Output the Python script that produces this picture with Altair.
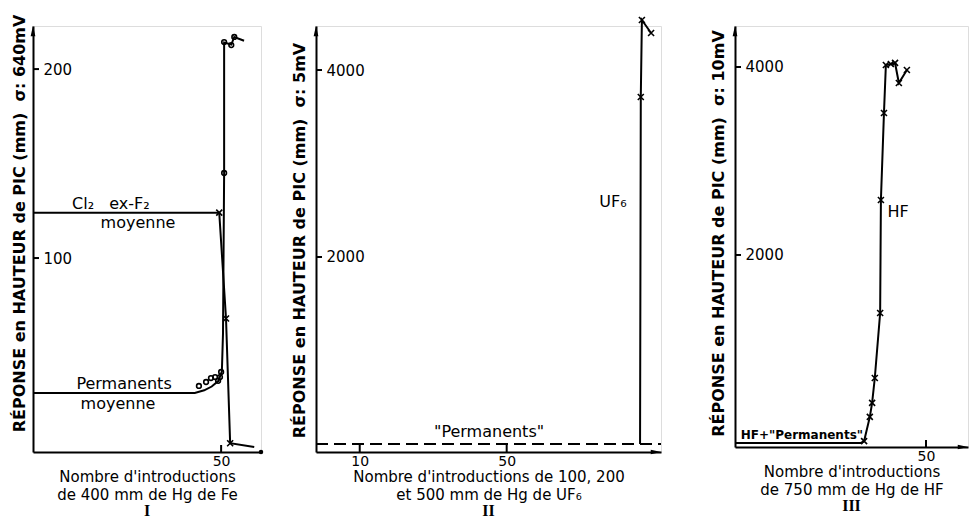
import altair as alt
import pandas as pd

FONT = "DejaVu Sans"

# ---------------- Panel I : Fe ----------------
i_perm_x = [0, 43, 45.5, 47.5, 49.3, 50.2, 50.5, 50.8, 50.8, 52.7, 53.5, 56.1]
i_perm_y = [28.6, 28.6, 30, 32, 35, 40, 60, 145, 214, 213, 217, 215]
i_perm_mx = [44.1, 46.0, 47.3, 48.4, 49.2, 49.7, 50.0, 50.8, 50.8, 52.7, 53.5]
i_perm_my = [32.3, 34.4, 36.5, 37, 35, 37, 39.7, 145, 214.3, 212.7, 217]
i_cl_x = [0, 49.5, 51.3, 52.4, 58.8]
i_cl_y = [124, 124, 68, 2, 0]
i_cl_mx = [49.5, 51.3, 52.4]
i_cl_my = [124, 68, 2]
i_xticks = [50]
i_yticks = [100, 200]
i_labels = ["Cl₂\u00a0\u00a0\u00a0ex-F₂", "moyenne", "Permanents", "moyenne"]
i_label_x = [20.7, 27.9, 24.2, 22.6]
i_label_y = [128.5, 118.5, 33.3, 22.8]

# ---------------- Panel II : UF6 ----------------
ii_uf_x = [86.3, 86.5, 86.8, 89.3]
ii_uf_y = [0, 3711, 4535, 4396]
ii_uf_mx = [86.5, 86.8, 89.3]
ii_uf_my = [3711, 4535, 4396]
ii_perm_x = [-1.9, 92]
ii_perm_y = [0, 0]
ii_xticks = [10, 50]
ii_yticks = [2000, 4000]
ii_labels = ["UF₆", "\"Permanents\""]
ii_label_x = [78.9, 45.2]
ii_label_y = [2588, 128]

# ---------------- Panel III : HF ----------------
iii_hf_x = [0, 33.0, 33.8, 35.3, 35.9, 36.6, 38.0, 38.2, 39.0, 39.5, 40.8, 41.9, 42.9, 45.0]
iii_hf_y = [0, 0, 20, 277, 426, 691, 1383, 2585, 3511, 4021, 4032, 4043, 3830, 3968]
iii_hf_mx = iii_hf_x[2:]
iii_hf_my = iii_hf_y[2:]
iii_xticks = [50]
iii_yticks = [2000, 4000]
iii_labels = ["HF"]
iii_label_x = [42.7]
iii_label_y = [2457]
iii_small_labels = ["HF+\"Permanents\""]
iii_small_x = [17.5]
iii_small_y = [85]

X_SHAPE = "M-1,-1L1,1M-1,1L1,-1"
UP_ARROW = "M0,-1L0.45,1L-0.45,1Z"
RIGHT_ARROW = "M1,0L-1,0.45L-1,-0.45Z"


def df(xs, ys):
    return pd.DataFrame({"x": xs, "y": ys, "i": list(range(len(xs)))})


def panel(xdom, ydom, w, h, xticks, yticks, ytitle, xtitle, numeral,
          title_x, title_y, lines, markers, labels, x_arrow, small_labels=None):
    xs = alt.Scale(domain=xdom, nice=False, zero=False)
    ys = alt.Scale(domain=ydom, nice=False, zero=False)
    xaxis = alt.Axis(values=xticks, ticks=False, grid=False, labelPadding=2,
                     labelFontSize=14, labelFont=FONT, labelColor="black",
                     domainWidth=2, domainColor="black", format="d",
                     title=xtitle, titleFont=FONT, titleFontSize=15,
                     titleFontWeight="normal", titleLineHeight=18,
                     titlePadding=1, titleColor="black")
    yaxis = alt.Axis(values=yticks, ticks=False, grid=False, labelAlign="left",
                     labelPadding=-10, labelFontSize=15, labelFont=FONT,
                     labelColor="black", domainWidth=2, domainColor="black",
                     format="d", title=ytitle, titleFont=FONT, titleFontSize=16,
                     titleFontWeight="bold", titleColor="black",
                     titleAngle=270, titleX=title_x, titleY=title_y,
                     titleAlign="center", titleBaseline="middle")
    X = alt.X("x:Q", scale=xs, axis=xaxis)
    Y = alt.Y("y:Q", scale=ys, axis=yaxis)

    layers = []
    for d, dash in lines:
        kw = dict(color="black", strokeWidth=2)
        if dash:
            kw["strokeDash"] = [12, 6]
        layers.append(alt.Chart(d).mark_line(**kw).encode(x=X, y=Y, order="i:Q"))
    for d, shape, size in markers:
        layers.append(alt.Chart(d).mark_point(shape=shape, size=size, filled=False,
                                              color="black", strokeWidth=1.6,
                                              opacity=1).encode(x=X, y=Y))
    # inward y ticks
    yt = pd.DataFrame({"y": yticks})
    layers.append(alt.Chart(yt).mark_rule(color="black", strokeWidth=2).encode(
        x=alt.value(0), x2=alt.value(6), y=Y))
    # inward x ticks
    xt = pd.DataFrame({"x": xticks})
    layers.append(alt.Chart(xt).mark_rule(color="black", strokeWidth=2).encode(
        x=X, y=alt.value(h), y2=alt.value(h - 7)))
    # y arrow
    ya = pd.DataFrame({"x": [xdom[0]], "y": [ydom[1]]})
    layers.append(alt.Chart(ya).mark_point(shape=UP_ARROW, size=110, filled=True,
                                           color="black", opacity=1, yOffset=5).encode(x=X, y=Y))
    xa = pd.DataFrame({"x": [xdom[1]], "y": [ydom[0]]})
    if x_arrow:
        layers.append(alt.Chart(xa).mark_point(shape=RIGHT_ARROW, size=110, filled=True,
                                               color="black", opacity=1, xOffset=-5).encode(x=X, y=Y))
    else:
        layers.append(alt.Chart(xa).mark_point(shape="circle", size=20, filled=True,
                                               color="black", opacity=1).encode(x=X, y=Y))
    ld = pd.DataFrame({"x": labels[0], "y": labels[1], "t": labels[2]})
    layers.append(alt.Chart(ld).mark_text(font=FONT, fontSize=16, color="black",
                                          align="center", baseline="middle").encode(
        x=X, y=Y, text="t:N"))
    if small_labels:
        sd = pd.DataFrame({"x": small_labels[0], "y": small_labels[1], "t": small_labels[2]})
        layers.append(alt.Chart(sd).mark_text(font=FONT, fontSize=12, fontWeight="bold",
                                              color="black", align="center",
                                              baseline="middle").encode(
            x=X, y=Y, text="t:N"))
    return alt.layer(*layers).properties(
        width=w, height=h,
        title=alt.TitleParams(numeral, orient="bottom", font="Liberation Serif",
                              fontSize=16, fontWeight="bold", color="black", offset=1))


p1 = panel([0, 60.6], [-2.65, 222.8], 228, 426, i_xticks, i_yticks,
           "RÉPONSE en HAUTEUR de PIC (mm)\u00a0\u00a0σ: 640mV",
           ["Nombre d'introductions", "de 400 mm de Hg de Fe"], "I",
           -14, 197,
           [(df(i_perm_x, i_perm_y), False), (df(i_cl_x, i_cl_y), False)],
           [(df(i_perm_mx, i_perm_my), "circle", 22), (df(i_cl_mx, i_cl_my), X_SHAPE, 36)],
           (i_label_x, i_label_y, i_labels), False)

p2 = panel([-1.9, 92], [-86, 4471], 345, 426, ii_xticks, ii_yticks,
           "RÉPONSE en HAUTEUR de PIC (mm)\u00a0\u00a0σ: 5mV",
           ["Nombre d'introductions de 100, 200", "et 500 mm de Hg de UF₆"], "II",
           -17, 214,
           [(df(ii_uf_x, ii_uf_y), False), (df(ii_perm_x, ii_perm_y), True)],
           [(df(ii_uf_mx, ii_uf_my), X_SHAPE, 36)],
           (ii_label_x, ii_label_y, ii_labels), True)

p3 = panel([0, 61], [-43, 4436], 233, 421, iii_xticks, iii_yticks,
           "RÉPONSE en HAUTEUR de PIC (mm)\u00a0\u00a0σ: 10mV",
           ["Nombre d'introductions", "\u00a0\u00a0\u00a0\u00a0de 750 mm de Hg de HF"], "III",
           -17, 207,
           [(df(iii_hf_x, iii_hf_y), False)],
           [(df(iii_hf_mx, iii_hf_my), X_SHAPE, 36)],
           (iii_label_x, iii_label_y, iii_labels), True,
           (iii_small_x, iii_small_y, iii_small_labels))

chart = alt.hconcat(alt.hconcat(p1, p2, spacing=26), p3, spacing=43).properties(
    padding={"left": 10, "top": 13, "right": 0, "bottom": 0}
).configure_view(strokeWidth=0).configure(background="white")

chart.save("out.html", embed_options={"renderer": "svg", "actions": False})
